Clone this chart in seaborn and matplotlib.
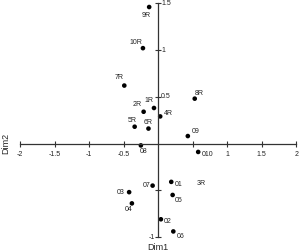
import matplotlib
matplotlib.use("Agg")
import matplotlib.pyplot as plt
import seaborn as sns
import pandas as pd

labels = ["9R", "10R", "7R", "2R", "1R", "4R", "5R", "6R", "8R",
          "09", "08", "010", "07", "01", "05", "03", "04", "02", "06"]
dim1 = [-0.13, -0.22, -0.49, -0.21, -0.06, 0.03, -0.34, -0.14, 0.53,
        0.43, -0.25, 0.58, -0.08, 0.19, 0.21, -0.42, -0.38, 0.04, 0.22]
dim2 = [1.46, 1.02, 0.62, 0.34, 0.38, 0.29, 0.18, 0.16, 0.48,
        0.08, -0.02, -0.09, -0.45, -0.41, -0.55, -0.52, -0.64, -0.81, -0.94]
# label with no visible marker
extra_label = "3R"
extra_x = 0.63
extra_y = -0.43

xticks = [-2, -1.5, -1, -0.5, 0.5, 1, 1.5, 2]
xticklabels = ["-2", "-1.5", "-1", "-0.5", "", "1", "1.5", "2"]
yticks = [-1, -0.5, 0.5, 1, 1.5]
yticklabels = ["-1", "", "0.5", "1", "1.5"]

# label offsets in pixels (dx, dy)
offsets = [(-3, -8), (-7, 6), (-5, 8), (-6, 7), (-5, 7), (8, 3), (-2, 6), (0, 6), (5, 5),
           (8, 5), (3, -6), (9, -3), (-6, 0), (7, -3), (6, -6), (-8, 0), (-3, -6), (7, -2), (7, -5)]

df = pd.DataFrame({"Dim1": dim1, "Dim2": dim2, "label": labels})

sns.set_style("white")
plt.rcParams["font.family"] = ["Liberation Sans", "DejaVu Sans"]

fig = plt.figure(figsize=(2.99, 2.52), dpi=100)
ax = fig.add_axes([0, 0, 1, 1])
sns.scatterplot(data=df, x="Dim1", y="Dim2", ax=ax, color="black", s=11,
                edgecolor="none", legend=False)

ax.set_xlim(-2.29, 2.04)
ax.set_ylim(-1.16, 1.535)

for sp in ["top", "right"]:
    ax.spines[sp].set_visible(False)
ax.spines["left"].set_position(("data", 0))
ax.spines["bottom"].set_position(("data", 0))
ax.spines["left"].set_bounds(-1, 1.5)
ax.spines["bottom"].set_bounds(-2, 2)
for sp in ["left", "bottom"]:
    ax.spines[sp].set_color("#333333")
    ax.spines[sp].set_linewidth(0.9)
    ax.spines[sp].set_zorder(1)

ax.set_xticks(xticks)
ax.set_yticks(yticks)
ax.set_xticklabels([])
ax.set_yticklabels([])
ax.tick_params(direction="inout", length=5, width=0.8, color="#333333",
               bottom=True, left=True)
ax.set_xlabel("")
ax.set_ylabel("")

fs = 5
for v, t in zip(xticks, xticklabels):
    ax.annotate(t, (v, 0), xytext=(0, -7), textcoords="offset pixels",
                ha="center", va="top", fontsize=fs, color="#222222")
for v, t in zip(yticks, yticklabels):
    if v > 0:
        ax.annotate(t, (0, v), xytext=(3, 0), textcoords="offset pixels",
                    ha="left", va="center", fontsize=fs, color="#222222")
    else:
        ax.annotate(t, (0, v), xytext=(-3, 0), textcoords="offset pixels",
                    ha="right", va="center", fontsize=fs, color="#222222")

for lab, x, y, (dx, dy) in zip(labels, dim1, dim2, offsets):
    ax.annotate(lab, (x, y), xytext=(dx, dy), textcoords="offset pixels",
                ha="center", va="center", fontsize=fs, color="#222222")
ax.annotate(extra_label, (extra_x, extra_y), ha="center", va="center",
            fontsize=fs, color="#222222")

fig.text(158 / 299, 1 - 248 / 252, "Dim1", ha="center", va="center", fontsize=6.5)
fig.text(6 / 299, 1 - 143 / 252, "Dim2", ha="center", va="center", fontsize=6.5,
         rotation=90)

fig.savefig("out.png", dpi=100)
